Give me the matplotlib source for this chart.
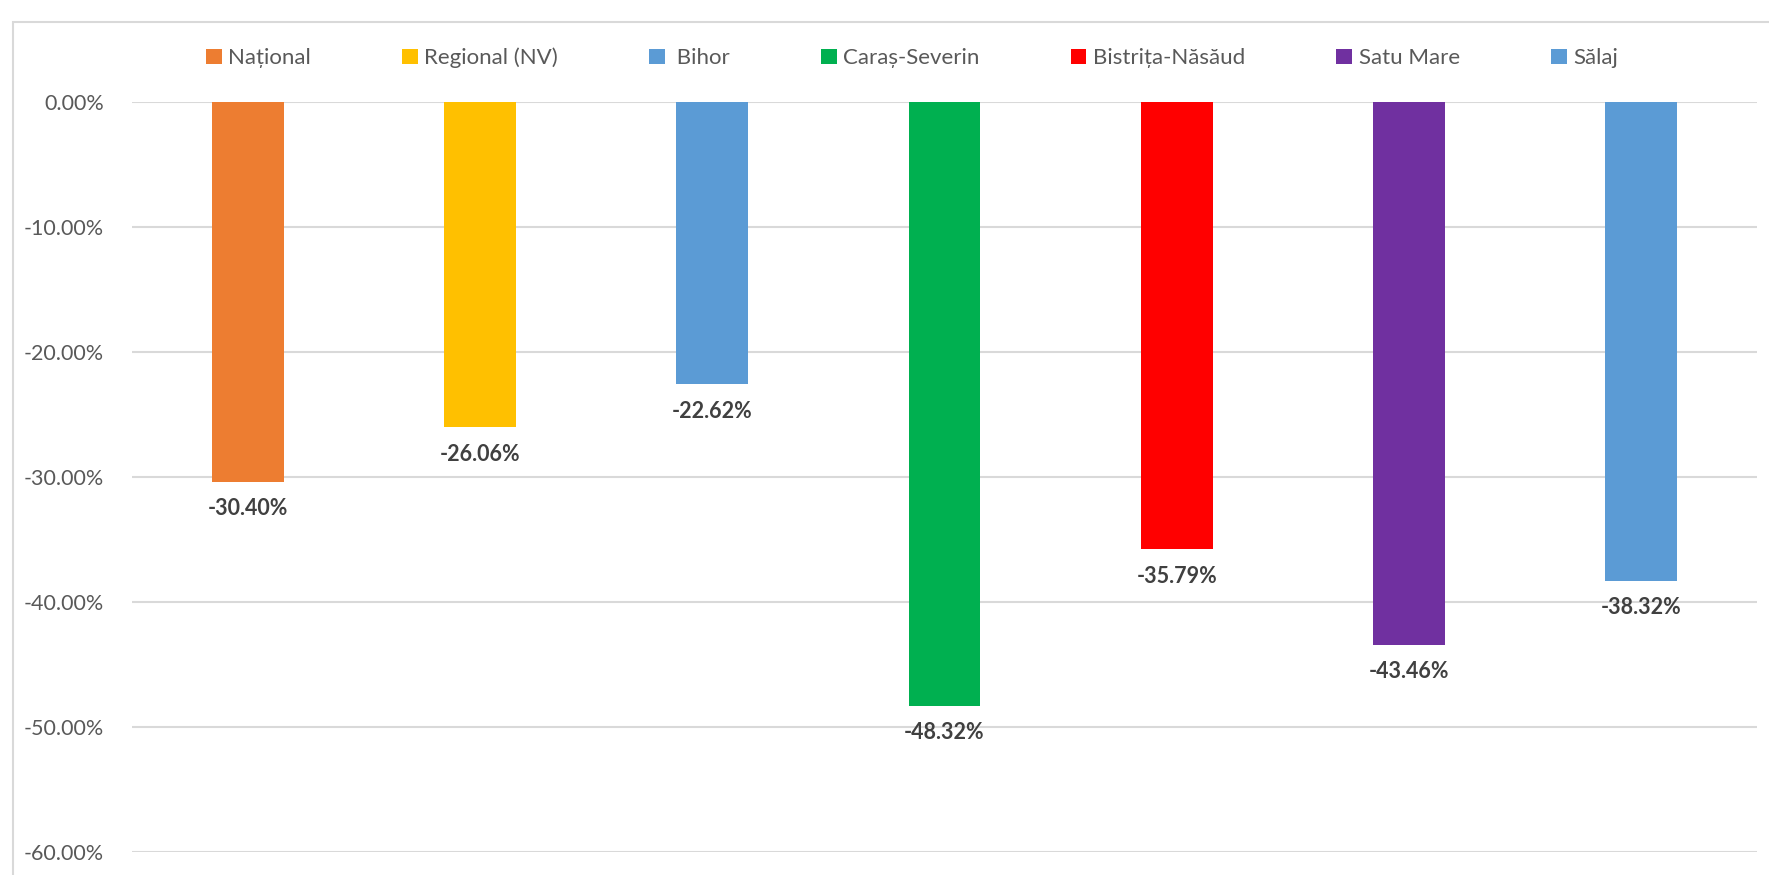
import matplotlib
matplotlib.use("Agg")
import matplotlib.pyplot as plt
from matplotlib.patches import Rectangle, Patch

plt.rcParams['font.family'] = ['Lato', 'DejaVu Sans']

categories = ["Național", "Regional (NV)", " Bihor", "Caraș-Severin",
              "Bistrița-Năsăud", "Satu Mare", "Sălaj"]
values = [-30.40, -26.06, -22.62, -48.32, -35.79, -43.46, -38.32]
colors = ["#ED7D31", "#FFC000", "#5B9BD5", "#00B050", "#FF0000", "#7030A0", "#5B9BD5"]
yticks = [0, -10, -20, -30, -40, -50, -60]

W, H = 1769, 875
fig = plt.figure(figsize=(W / 100, H / 100), dpi=100)
fig.patches.append(Rectangle((13 / W, -0.1), 1.2, 1 - 22 / H + 0.1,
                             transform=fig.transFigure, fill=False,
                             edgecolor="#D9D9D9", linewidth=1.5))

ax = fig.add_axes([132 / W, 1 - 851.6 / H, (1757 - 132) / W, (851.6 - 101.5) / H])
x = list(range(len(categories)))
bars = ax.bar(x, values, width=0.31, color=colors, zorder=3)
ax.set_xlim(-0.5, len(categories) - 0.5)
ax.set_ylim(-60, 0)
ax.set_yticks(yticks)
ax.set_yticklabels([f"{v:.2f}%" for v in yticks], fontsize=15.5, color="#595959")
ax.set_xticks([])
ax.tick_params(axis="y", length=0, pad=20)
for s in ax.spines.values():
    s.set_visible(False)
ax.grid(axis="y", color="#D9D9D9", linewidth=1.5, zorder=0)
ax.set_axisbelow(True)

for xi, v in zip(x, values):
    ax.annotate(f"{v:.2f}%", (xi, v), xytext=(0, -12), textcoords="offset points",
                ha="center", va="top", fontsize=15.5, fontweight="bold", color="#404040")

handles = [Patch(facecolor=c, edgecolor="none") for c in colors]
fig.legend(handles, categories, loc="center", bbox_to_anchor=(912 / W, 1 - 58 / H),
           ncol=7, frameon=False, fontsize=16, labelcolor="#595959",
           handlelength=0.7, handleheight=0.7, handletextpad=0.3, columnspacing=4.1)

fig.savefig("out.png", dpi=100, facecolor="white")
